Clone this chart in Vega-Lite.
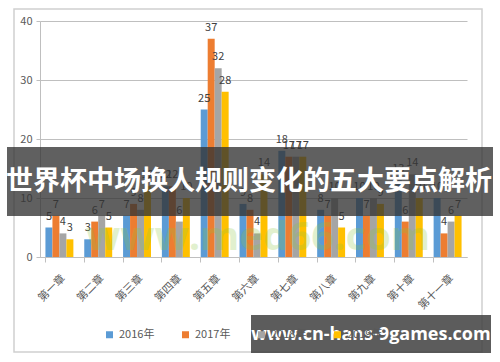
{
  "$schema": "https://vega.github.io/schema/vega-lite/v6.json",
  "width": 427,
  "height": 236,
  "autosize": "none",
  "padding": {"left": 40, "top": 21, "right": 33, "bottom": 105},
  "background": "white",
  "config": {
    "view": {"stroke": null},
    "font": "Noto Sans CJK SC"
  },
  "datasets": {
    "main": [
      {"cat": "第一章", "year": "2016年", "value": 5},
      {"cat": "第一章", "year": "2017年", "value": 7},
      {"cat": "第一章", "year": "2018年", "value": 4},
      {"cat": "第一章", "year": "2019年", "value": 3},
      {"cat": "第二章", "year": "2016年", "value": 3},
      {"cat": "第二章", "year": "2017年", "value": 6},
      {"cat": "第二章", "year": "2018年", "value": 7},
      {"cat": "第二章", "year": "2019年", "value": 5},
      {"cat": "第三章", "year": "2016年", "value": 7},
      {"cat": "第三章", "year": "2017年", "value": 9},
      {"cat": "第三章", "year": "2018年", "value": 8},
      {"cat": "第三章", "year": "2019年", "value": 12},
      {"cat": "第四章", "year": "2016年", "value": 12},
      {"cat": "第四章", "year": "2017年", "value": 12},
      {"cat": "第四章", "year": "2018年", "value": 6},
      {"cat": "第四章", "year": "2019年", "value": 10},
      {"cat": "第五章", "year": "2016年", "value": 25},
      {"cat": "第五章", "year": "2017年", "value": 37},
      {"cat": "第五章", "year": "2018年", "value": 32},
      {"cat": "第五章", "year": "2019年", "value": 28},
      {"cat": "第六章", "year": "2016年", "value": 9},
      {"cat": "第六章", "year": "2017年", "value": 8},
      {"cat": "第六章", "year": "2018年", "value": 4},
      {"cat": "第六章", "year": "2019年", "value": 14},
      {"cat": "第七章", "year": "2016年", "value": 18},
      {"cat": "第七章", "year": "2017年", "value": 17},
      {"cat": "第七章", "year": "2018年", "value": 17},
      {"cat": "第七章", "year": "2019年", "value": 17},
      {"cat": "第八章", "year": "2016年", "value": 8},
      {"cat": "第八章", "year": "2017年", "value": 7},
      {"cat": "第八章", "year": "2018年", "value": 10},
      {"cat": "第八章", "year": "2019年", "value": 5},
      {"cat": "第九章", "year": "2016年", "value": 10},
      {"cat": "第九章", "year": "2017年", "value": 7},
      {"cat": "第九章", "year": "2018年", "value": 10},
      {"cat": "第九章", "year": "2019年", "value": 9},
      {"cat": "第十章", "year": "2016年", "value": 13},
      {"cat": "第十章", "year": "2017年", "value": 6},
      {"cat": "第十章", "year": "2018年", "value": 14},
      {"cat": "第十章", "year": "2019年", "value": 10},
      {"cat": "第十一章", "year": "2016年", "value": 10},
      {"cat": "第十一章", "year": "2017年", "value": 4},
      {"cat": "第十一章", "year": "2018年", "value": 6},
      {"cat": "第十一章", "year": "2019年", "value": 7}
    ]
  },
  "layer": [
    {
      "data": {"values": [{"k": 1}]},
      "mark": {"type": "rect", "fill": "transparent", "stroke": "#d0d0d0", "strokeWidth": 1.5},
      "encoding": {
        "x": {"value": -26},
        "x2": {"value": 442},
        "y": {"value": -12},
        "y2": {"value": 331}
      }
    },
    {
      "data": {"name": "main"},
      "mark": {"type": "bar"},
      "encoding": {
        "x": {
          "field": "cat",
          "type": "nominal",
          "sort": null,
          "scale": {"paddingInner": 0.28, "paddingOuter": 0.14},
          "axis": {
            "title": null,
            "labelAngle": -45,
            "labelFontSize": 11,
            "labelColor": "#595959",
            "labelPadding": 10,
            "domainColor": "#bfbfbf",
            "tickColor": "#bfbfbf",
            "tickSize": 5,
            "bandPosition": 0
          }
        },
        "xOffset": {"field": "year", "type": "nominal", "scale": {"paddingInner": 0, "paddingOuter": 0}},
        "y": {
          "field": "value",
          "type": "quantitative",
          "scale": {"domain": [0, 40]},
          "axis": {
            "title": null,
            "values": [0, 5, 10, 15, 20, 25, 30, 35, 40],
            "labelFontSize": 11,
            "labelColor": "#595959",
            "labelPadding": 4,
            "gridColor": "#bfbfbf",
            "gridWidth": 1.2,
            "domainColor": "#bfbfbf",
            "tickColor": "#bfbfbf",
            "tickSize": 4
          }
        },
        "color": {
          "field": "year",
          "type": "nominal",
          "scale": {
            "domain": ["2016年", "2017年", "2018年", "2019年"],
            "range": ["#5b9bd5", "#ed7d31", "#a5a5a5", "#ffc000"]
          },
          "legend": {
            "title": null,
            "orient": "none",
            "direction": "horizontal",
            "legendX": 64,
            "legendY": 308,
            "symbolType": "square",
            "symbolSize": 49,
            "symbolStrokeWidth": 0,
            "labelFontSize": 11,
            "labelColor": "#595959",
            "labelOffset": 4,
            "columnPadding": 25,
            "zindex": -1
          }
        }
      }
    },
    {
      "data": {"name": "main"},
      "mark": {"type": "text", "dy": -11, "fontSize": 11, "color": "#404040"},
      "encoding": {
        "x": {"field": "cat", "type": "nominal", "sort": null},
        "xOffset": {"field": "year", "type": "nominal"},
        "y": {"field": "value", "type": "quantitative"},
        "text": {"field": "value", "type": "quantitative"}
      }
    },
    {
      "data": {"values": [{"t": "www.med66.com"}]},
      "mark": {"type": "text", "fontSize": 40, "fontWeight": "bold", "font": "Open Sans", "color": "#8cc63f", "opacity": 0.25, "align": "center", "baseline": "alphabetic"},
      "encoding": {
        "x": {"value": 218},
        "y": {"value": 229},
        "text": {"field": "t"}
      }
    },
    {
      "data": {"values": [{"k": 1}]},
      "mark": {"type": "rect", "fill": "#333333", "opacity": 0.78},
      "encoding": {
        "x": {"value": -33},
        "x2": {"value": 453},
        "y": {"value": 126},
        "y2": {"value": 195}
      }
    },
    {
      "data": {"values": [{"t": "世界杯中场换人规则变化的五大要点解析"}]},
      "mark": {"type": "text", "fontSize": 27, "fontWeight": "bold", "font": "Noto Sans CJK SC", "color": "white", "align": "center", "baseline": "middle"},
      "encoding": {
        "x": {"value": 209},
        "y": {"value": 161},
        "text": {"field": "t"}
      }
    },
    {
      "data": {"values": [{"k": 1}]},
      "mark": {"type": "rect", "fill": "#404040", "opacity": 0.85},
      "encoding": {
        "x": {"value": 211},
        "x2": {"value": 451},
        "y": {"value": 294},
        "y2": {"value": 332}
      }
    },
    {
      "data": {"values": [{"t": "www.cn-hans-9games.com"}]},
      "mark": {"type": "text", "fontSize": 18, "fontWeight": "bold", "font": "Open Sans", "color": "white", "align": "center", "baseline": "middle"},
      "encoding": {
        "x": {"value": 331},
        "y": {"value": 314},
        "text": {"field": "t"}
      }
    }
  ]
}
